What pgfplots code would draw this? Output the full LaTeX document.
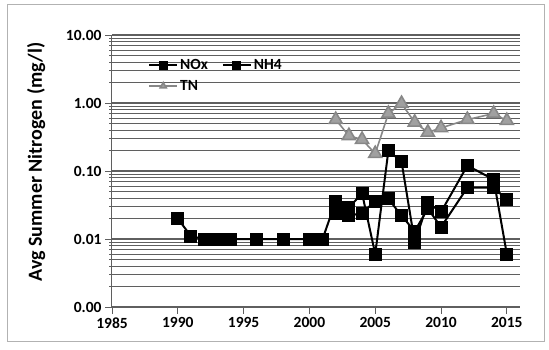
\documentclass[border=0pt]{standalone}
\usepackage{pgfplots}
\pgfplotsset{compat=1.18}
\usepackage{fontspec}
\setmainfont{Carlito}
\definecolor{gridc}{RGB}{95,95,95}
\definecolor{tnfill}{RGB}{160,160,160}
\definecolor{tnline}{RGB}{135,135,135}
\begin{document}
\begin{tikzpicture}[x=1pt,y=1pt]
\path[use as bounding box] (0,0) rectangle (549,349);
\draw[gray!60, line width=1pt] (7,8) rectangle (544,344);
\begin{axis}[
  at={(112pt,42pt)}, anchor=south west,
  width=408pt, height=272pt, scale only axis,
  xmin=1985, xmax=2016, ymode=log, ymin=0.001, ymax=10,
  axis x line*=bottom, axis y line*=left,
  axis line style={gridc, line width=1pt},
  tick align=outside,
  xtick={1985,1990,1995,2000,2005,2010,2015},
  xticklabels={1985,1990,1995,2000,2005,2010,2015},
  ytick={0.001,0.01,0.1,1,10},
  yticklabels={0.00,0.01,0.10,1.00,10.00},
  minor ytick={0.002,0.003,0.004,0.005,0.006,0.007,0.008,0.009,
               0.02,0.03,0.04,0.05,0.06,0.07,0.08,0.09,
               0.2,0.3,0.4,0.5,0.6,0.7,0.8,0.9,
               2,3,4,5,6,7,8,9},
  ymajorgrids, yminorgrids,
  major grid style={gridc, line width=1.2pt},
  minor grid style={gridc, line width=1pt},
  major tick length=7pt, minor tick length=3pt,
  tick style={gridc, line width=0.9pt},
  ticklabel style={font=\bfseries\fontsize{15.5}{18}\selectfont},
  ylabel={Avg Summer Nitrogen (mg/l)},
  ylabel style={font=\bfseries\fontsize{20}{24}\selectfont, at={(axis description cs:-0.186,0.533)}, anchor=center},
  legend columns=2,
  legend cell align=left,
  legend style={at={(axis description cs:0.081,0.925)}, anchor=north west, draw=none, fill=none,
    font=\bfseries\fontsize{15.5}{18}\selectfont, row sep=5pt,
    /tikz/column 2/.style={column sep=12pt}},
  legend image code/.code={\draw[mark repeat=2,mark phase=2,#1] plot coordinates {(0pt,0pt) (14pt,0pt) (28pt,0pt)};},
  legend image post style={mark size=3.5pt},
]
\addplot[black, line width=2pt, mark=square*, mark size=5.5pt, mark options={solid}] coordinates {
(1990,0.02)(1991,0.011)(1992,0.01)(1993,0.01)(1994,0.01)(1996,0.01)(1998,0.01)(2000,0.01)(2001,0.01)
(2002,0.036)(2003,0.029)(2004,0.047)(2005,0.006)(2006,0.20)(2007,0.137)(2008,0.009)(2009,0.034)
(2010,0.025)(2012,0.12)(2014,0.075)(2015,0.006)};
\addlegendentry{NOx}
\addplot[black, line width=2pt, mark=square*, mark size=5.5pt, mark options={solid}] coordinates {
(2002,0.024)(2003,0.022)(2004,0.024)(2005,0.036)(2006,0.039)(2007,0.022)(2008,0.013)(2009,0.028)
(2010,0.015)(2012,0.057)(2014,0.057)(2015,0.038)};
\addlegendentry{NH4}
\addplot[tnline, line width=1.6pt, mark=triangle*, mark size=7.5pt, mark options={solid, fill=tnfill, draw=tnline}] coordinates {
(2002,0.57)(2003,0.33)(2004,0.29)(2005,0.18)(2006,0.70)(2007,0.98)(2008,0.52)(2009,0.37)
(2010,0.43)(2012,0.57)(2014,0.70)(2015,0.55)};
\addlegendentry{TN}
\end{axis}
\end{tikzpicture}
\end{document}
